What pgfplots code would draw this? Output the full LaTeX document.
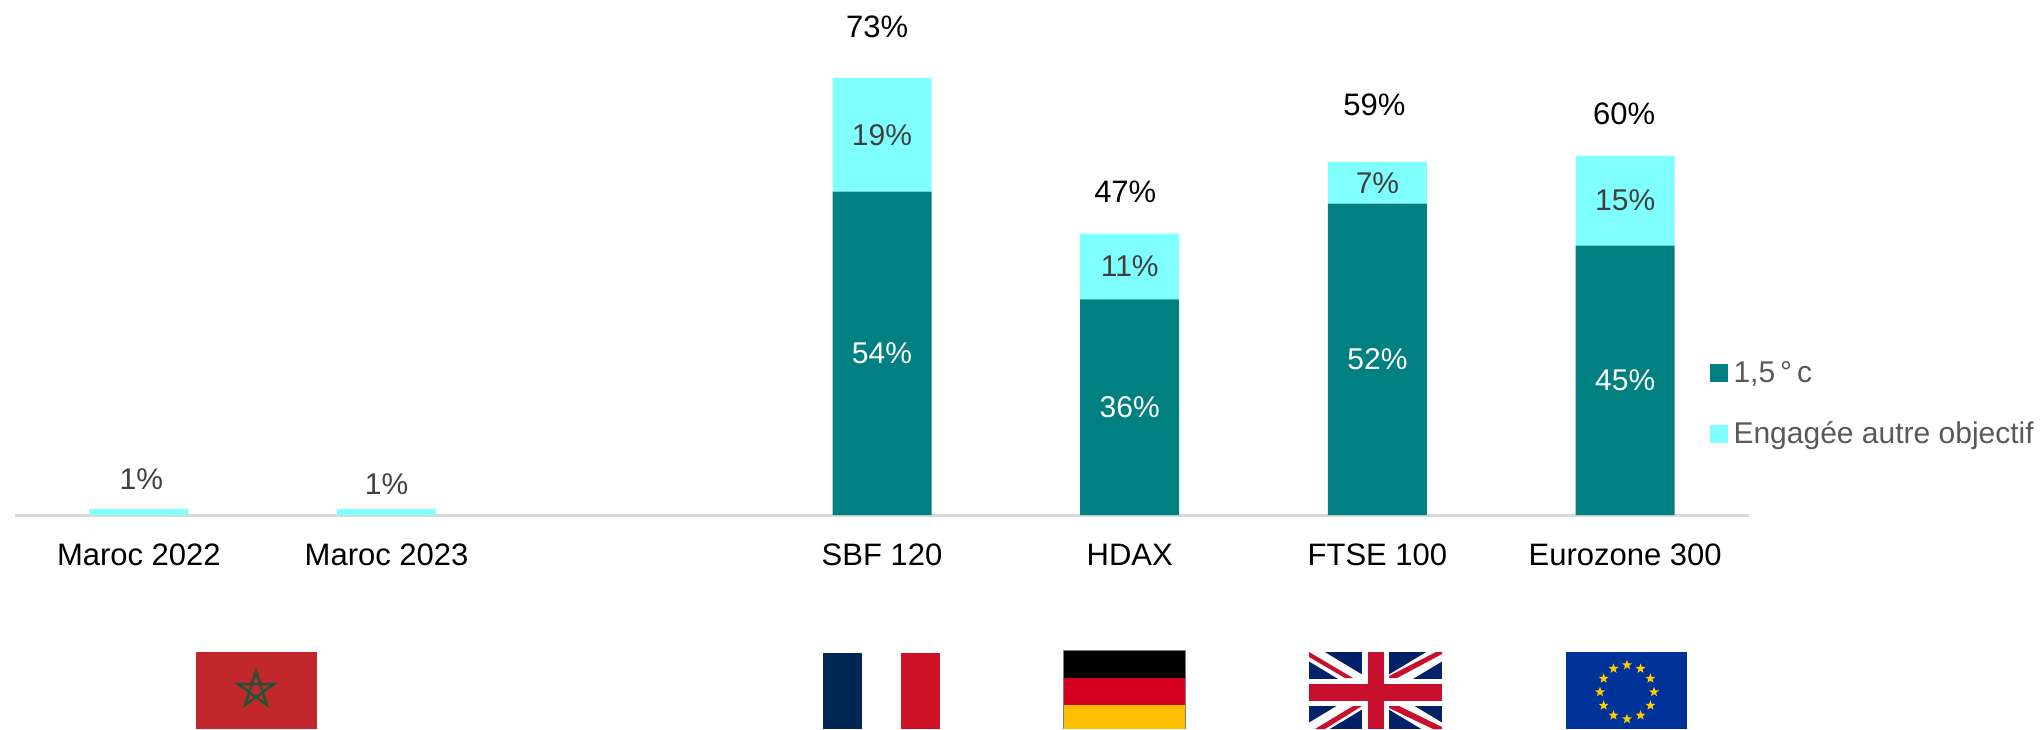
\documentclass[border=0pt]{standalone}
\usepackage{fontspec}
\setmainfont{Liberation Sans}
\usepackage{pgfplots}
\usepackage{pgfplotstable}
\pgfplotsset{compat=1.18}
\usetikzlibrary{shapes.geometric,calc}
\definecolor{teal1}{HTML}{008080}
\definecolor{cyan1}{HTML}{80FFFF}
\definecolor{lab}{HTML}{404040}
\definecolor{leg}{HTML}{595959}
\definecolor{axl}{HTML}{D9D9D9}
\definecolor{mared}{HTML}{C1272D}
\definecolor{magreen}{HTML}{1A5632}
\definecolor{frblue}{HTML}{002654}
\definecolor{frred}{HTML}{CE1126}
\definecolor{dered}{HTML}{D50020}
\definecolor{degold}{HTML}{FFBE00}
\definecolor{uknavy}{HTML}{012169}
\definecolor{ukred}{HTML}{C8102E}
\definecolor{eublue}{HTML}{003399}
\definecolor{eustar}{HTML}{FFCC00}
\newcommand{\fa}{\fontsize{15.5pt}{19pt}\selectfont}
\newcommand{\fb}{\fontsize{15pt}{18pt}\selectfont}
\pgfplotstableread{
x a lab
0 0 {}
1 0 {}
3 54 54\%
4 36 36\%
5 52 52\%
6 45 45\%
}\tableA
\pgfplotstableread{
x b lab
0 1 {}
1 1 {}
3 19 19\%
4 11 11\%
5 7 7\%
6 15 15\%
}\tableB
\begin{document}
\begin{tikzpicture}[font=\fa]
\useasboundingbox (0pt,0pt) rectangle (1021.5pt,364.5pt);
\clip (0pt,0pt) rectangle (1021.5pt,364.5pt);
\begin{axis}[
  at={(7.5pt,107pt)},anchor=south west,scale only axis,
  width=867pt,height=257.5pt,
  xmin=-0.5,xmax=6.5,ymin=0,ymax=86.03,
  ybar stacked,bar width=49.5pt,clip=false,
  axis x line=bottom,axis y line=none,
  axis line style={draw=axl,line width=1.5pt,-},
  x axis line style={-},
  xtick={0,1,3,4,5,6},
  xticklabels={Maroc 2022,Maroc 2023,SBF 120,HDAX,FTSE 100,Eurozone 300},
  xtick style={draw=none},major tick length=0pt,
  xticklabel style={anchor=base,yshift=-25pt,text=black},
  legend cell align=left,
  legend style={draw=none,fill=none,at={(rel axis cs:0.977,0.307)},anchor=north west,
    font=\fb\color{leg},row sep=14.2pt,inner sep=0pt,
    /tikz/every even column/.append style={column sep=0pt}},
  legend image code/.code={\fill[#1] (0pt,-4.5pt) rectangle (9pt,4.5pt);},
  nodes near coords,
  point meta=explicit symbolic,
  every node near coord/.append style={anchor=center,font=\fb},
]
\addplot[draw=none,fill=teal1,every node near coord/.append style={text=white}]
  table[x=x,y=a,meta=lab]{\tableA};
\addlegendentry{\hspace{1pt}1,5\,°\,c}
\addplot[draw=none,fill=cyan1,every node near coord/.append style={text=lab}]
  table[x=x,y=b,meta=lab]{\tableB};
\addlegendentry{\hspace{1pt}Engagée autre objectif}
\node[text=lab,font=\fb] at (axis cs:0.01,6.0) {1\%};
\node[text=lab,font=\fb] at (axis cs:1,5.2) {1\%};
\node[text=black] at (axis cs:2.98,81.5) {73\%};
\node[text=black] at (axis cs:3.982,54) {47\%};
\node[text=black] at (axis cs:4.988,68.5) {59\%};
\node[text=black] at (axis cs:5.996,67) {60\%};
\end{axis}
\begin{scope}[x=0.5pt,y=-0.5pt,yshift=364.5pt]
% Morocco
\fill[mared] (196,652) rectangle (317,729);
\draw[magreen,line width=1.2pt,line join=miter]
  (256,671) -- (267,705) -- (238,684) -- (274,684) -- (245,705) -- cycle;
% France
\fill[frblue] (823,653) rectangle (862,729);
\fill[frred] (901,653) rectangle (940,729);
% Germany
\fill[black] (1063,651) rectangle (1185,678);
\fill[dered] (1063,678) rectangle (1185,705);
\fill[degold] (1063,705) rectangle (1185,729);
\draw[gray,line width=0.4pt] (1063,729) -- (1063,650.5) -- (1185,650.5) -- (1185,729);
% UK
\begin{scope}
\clip (1309,652) rectangle (1442,729);
\fill[uknavy] (1309,652) rectangle (1442,729);
\draw[white,line width=8pt] (1309,652) -- (1442,732) (1309,732) -- (1442,652);
\fill[ukred] (1309,652) -- (1353,678) -- (1345,678) -- (1309,657) -- cycle;
\fill[ukred] (1389,678) -- (1397,678) -- (1442,654) -- (1442,652) -- (1436,652) -- (1389,676) -- cycle;
\fill[ukred] (1315,729) -- (1353,706) -- (1362,706) -- (1325,729) -- cycle;
\fill[ukred] (1389,706) -- (1399,706) -- (1442,727) -- (1442,729) -- (1433,729) -- (1389,708) -- cycle;
\fill[white] (1362,652) rectangle (1389,729);
\fill[white] (1309,679) rectangle (1442,706);
\fill[ukred] (1368,652) rectangle (1384,729);
\fill[ukred] (1309,684) rectangle (1442,700.5);
\end{scope}
% EU
\fill[eublue] (1566,652) rectangle (1687,729);
\foreach \a in {0,30,...,330}
  \node[star,star points=5,star point ratio=2.4,fill=eustar,inner sep=0pt,minimum size=5.2pt]
    at ($(1627,692)+(\a:27)$) {};
\end{scope}
\end{tikzpicture}
\end{document}
